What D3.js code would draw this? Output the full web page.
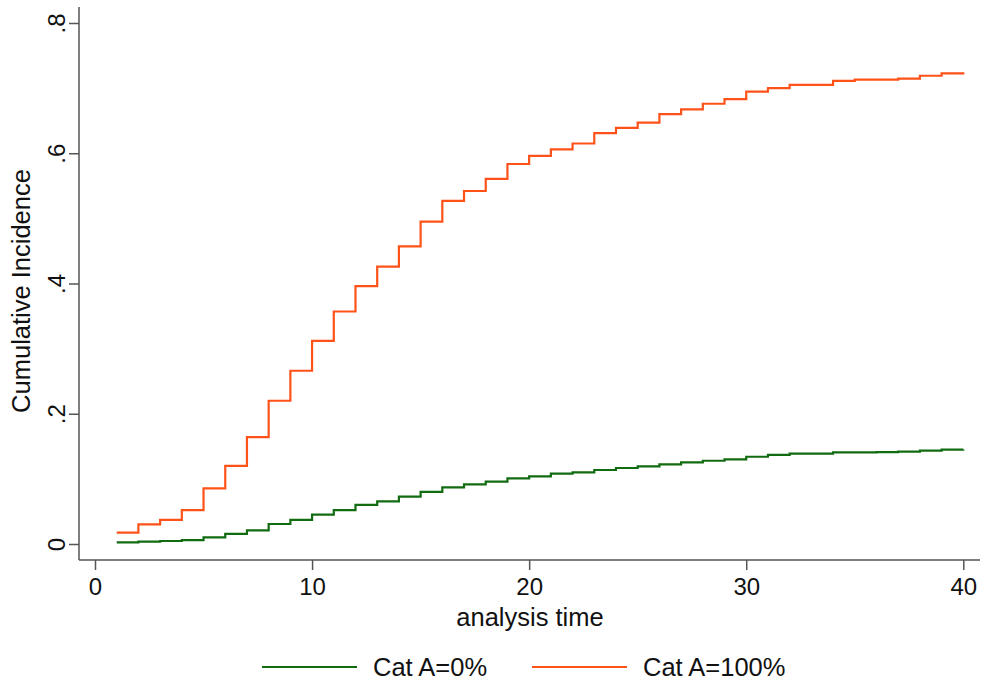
<!DOCTYPE html>
<html>
<head>
<meta charset="utf-8">
<script src="https://cdn.jsdelivr.net/npm/d3@7"></script>
<style>
  body { margin: 0; background: #fff; }
  svg text { font-family: "Liberation Sans", Arial, sans-serif; fill: #111; }
</style>
</head>
<body>
<svg id="chart" width="985" height="685"></svg>
<script>
// analysis time steps
var times = d3.range(1, 41);
// Cat A=0%
var catA0 = [0.0026, 0.0036, 0.0046, 0.006, 0.0102, 0.0154, 0.021, 0.0307, 0.0369, 0.045,
             0.052, 0.060, 0.0655, 0.0727, 0.080, 0.087, 0.0916, 0.0957, 0.1008, 0.1039,
             0.108, 0.110, 0.1136, 0.1167, 0.1193, 0.1224, 0.1254, 0.1278, 0.130, 0.134,
             0.1367, 0.1387, 0.1387, 0.1408, 0.1408, 0.141, 0.1418, 0.1433, 0.1448, 0.145];
// Cat A=100%
var catA100 = [0.0174, 0.030, 0.037, 0.052, 0.0855, 0.120, 0.164, 0.220, 0.266, 0.312,
               0.357, 0.396, 0.426, 0.457, 0.495, 0.527, 0.542, 0.5605, 0.5835, 0.596,
               0.606, 0.615, 0.631, 0.639, 0.647, 0.660, 0.6675, 0.676, 0.683, 0.6945,
               0.700, 0.705, 0.705, 0.711, 0.713, 0.713, 0.7145, 0.719, 0.7227, 0.7243];
var xTicks = [0, 10, 20, 30, 40];
var yTicks = [0, 0.2, 0.4, 0.6, 0.8];
var seriesNames = ["Cat A=0%", "Cat A=100%"];
var colors = ["#116b11", "#ff5219"];

var svg = d3.select("#chart");

var x = d3.scaleLinear().domain([0, 40]).range([95, 963.3]);
var y = d3.scaleLinear().domain([0, 0.8]).range([544, 23]);

// axes
var axisColor = "#555";
svg.append("line").attr("x1", 79).attr("x2", 79).attr("y1", 7).attr("y2", 560)
    .attr("stroke", axisColor).attr("stroke-width", 1.5);
svg.append("line").attr("x1", 79).attr("x2", 980).attr("y1", 560).attr("y2", 560)
    .attr("stroke", axisColor).attr("stroke-width", 1.5);

var gx = svg.append("g").attr("transform", "translate(0,560)")
    .call(d3.axisBottom(x).tickValues(xTicks).tickSize(10).tickPadding(8).tickFormat(d3.format("d")));
gx.select(".domain").remove();
gx.selectAll("line").attr("stroke", axisColor).attr("stroke-width", 1.5);
gx.selectAll("text").attr("font-size", 24).style("font-family", "Liberation Sans, Arial, sans-serif").attr("fill", "#111");

var gy = svg.append("g").attr("transform", "translate(79,0)")
    .call(d3.axisLeft(y).tickValues(yTicks).tickSize(10).tickFormat(function(d) {
        return d === 0 ? "0" : d3.format(".1f")(d).replace(/^0/, "");
    }));
gy.select(".domain").remove();
gy.selectAll("line").attr("stroke", axisColor).attr("stroke-width", 1.5);
gy.selectAll("text")
    .attr("font-size", 24)
    .style("font-family", "Liberation Sans, Arial, sans-serif")
    .attr("fill", "#111")
    .attr("x", null).attr("dy", null)
    .attr("text-anchor", "middle")
    .attr("transform", "translate(-22,0) rotate(-90)")
    .attr("y", 0).attr("dy", "0.35em");

// axis titles
svg.append("text").attr("x", 530).attr("y", 626).attr("text-anchor", "middle")
    .attr("font-size", 25.5).text("analysis time");
svg.append("text").attr("transform", "translate(30,291) rotate(-90)").attr("text-anchor", "middle")
    .attr("font-size", 25.5).text("Cumulative Incidence");

// lines
var line = d3.line()
    .x(function(d) { return x(d[0]); })
    .y(function(d) { return y(d[1]); })
    .curve(d3.curveStepAfter);

[catA0, catA100].forEach(function(vals, i) {
    svg.append("path")
        .datum(times.map(function(t, j) { return [t, vals[j]]; }))
        .attr("fill", "none")
        .attr("stroke", colors[i])
        .attr("stroke-width", 2.2)
        .attr("d", line);
});

// legend
var legX = [262, 532];
seriesNames.forEach(function(name, i) {
    svg.append("line").attr("x1", legX[i]).attr("x2", legX[i] + 95)
        .attr("y1", 667).attr("y2", 667)
        .attr("stroke", colors[i]).attr("stroke-width", 2.2);
    svg.append("text").attr("x", legX[i] + 111).attr("y", 676)
        .attr("font-size", 25.5).text(name);
});
</script>
</body>
</html>
